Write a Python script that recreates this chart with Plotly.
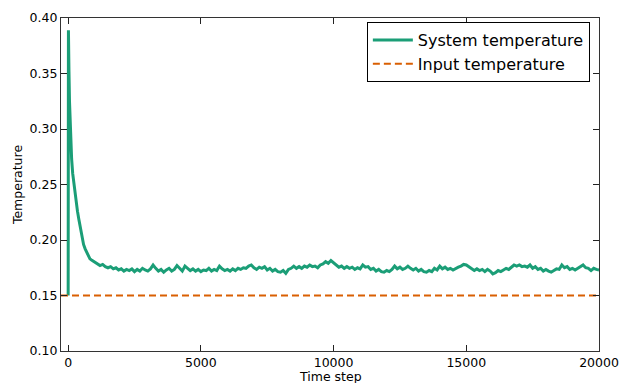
import plotly.graph_objects as go

# Early relaxation: the system starts at the input temperature, jumps, then decays
early_steps = [0, 10, 20, 30, 50, 75, 100, 130, 170, 215, 260, 300, 350, 400,
               450, 520, 580, 640, 700, 760, 820, 880, 940]
early_temp = [0.150, 0.389, 0.372, 0.352, 0.325, 0.302, 0.287, 0.273, 0.260,
              0.250, 0.241, 0.234, 0.226, 0.219, 0.212, 0.201, 0.196, 0.192,
              0.189, 0.186, 0.183, 0.182, 0.181]

# Steady-state fluctuations, sampled every 100 steps from 1000 to 20000
steady_steps = list(range(1000, 20001, 100))
steady_temp = [
    0.180, 0.179, 0.177, 0.178, 0.176, 0.175, 0.176, 0.174, 0.175, 0.173,
    0.174, 0.172, 0.1735, 0.1725, 0.174, 0.1715, 0.1735, 0.172, 0.1745, 0.173,
    0.172, 0.174, 0.1775, 0.1745, 0.172, 0.1735, 0.171, 0.173, 0.1745, 0.172,
    0.1735, 0.177, 0.174, 0.172, 0.1765, 0.1745, 0.1725, 0.174, 0.172, 0.1735,
    0.1715, 0.173, 0.1725, 0.1745, 0.172, 0.1735, 0.1725, 0.1765, 0.174, 0.1725,
    0.1735, 0.172, 0.174, 0.1725, 0.1745, 0.1735, 0.175, 0.1745, 0.1765, 0.1775,
    0.175, 0.1735, 0.1755, 0.1745, 0.176, 0.173, 0.1745, 0.172, 0.1735, 0.1715,
    0.171, 0.1725, 0.170, 0.1735, 0.1745, 0.1765, 0.1745, 0.176, 0.1745, 0.1765,
    0.1755, 0.1775, 0.176, 0.1765, 0.175, 0.1775, 0.1785, 0.1805, 0.179, 0.1815,
    0.1795, 0.177, 0.1755, 0.1765, 0.1745, 0.176, 0.1745, 0.1755, 0.1735, 0.175,
    0.174, 0.1775, 0.1755, 0.176, 0.1735, 0.1745, 0.172, 0.1735, 0.1715, 0.171,
    0.1725, 0.1715, 0.1735, 0.1765, 0.174, 0.1755, 0.1735, 0.1745, 0.1765, 0.1745,
    0.173, 0.1745, 0.172, 0.1735, 0.1715, 0.171, 0.1725, 0.1715, 0.1745, 0.173,
    0.1765, 0.174, 0.1755, 0.1735, 0.1745, 0.173, 0.1745, 0.1755, 0.1765, 0.178,
    0.1775, 0.176, 0.1745, 0.1725, 0.174, 0.1725, 0.1735, 0.1715, 0.1735, 0.172,
    0.1695, 0.1705, 0.1725, 0.1715, 0.173, 0.1745, 0.1735, 0.1755, 0.1775, 0.1765,
    0.1775, 0.176, 0.1765, 0.1755, 0.1775, 0.1745, 0.176, 0.1735, 0.1745, 0.172,
    0.1735, 0.172, 0.171, 0.1725, 0.174, 0.1735, 0.1775, 0.175, 0.176, 0.1735,
    0.1745, 0.173, 0.1745, 0.176, 0.1775, 0.175, 0.1745, 0.1725, 0.1745, 0.1735,
    0.173,
]

system_steps = early_steps + steady_steps
system_temp = early_temp + steady_temp

x_range = [-270, 20000]
input_steps = x_range
input_temp = [0.15, 0.15]

x_ticks = [0, 5000, 10000, 15000, 20000]
y_ticks = [0.10, 0.15, 0.20, 0.25, 0.30, 0.35, 0.40]

fig = go.Figure()
fig.add_trace(go.Scatter(
    x=system_steps, y=system_temp, mode="lines", name="System temperature",
    line=dict(color="#1b9e77", width=3),
))
fig.add_trace(go.Scatter(
    x=input_steps, y=input_temp, mode="lines", name="Input temperature",
    line=dict(color="#d95f02", width=2, dash="7px,4px"),
))

axis_common = dict(
    showgrid=False, zeroline=False, showline=True, linecolor="#333333",
    linewidth=1.3, mirror="ticks", ticks="inside", ticklen=6, tickwidth=1.3,
    tickcolor="#222222", tickfont=dict(size=12.5, color="black"),
    automargin=False,
)

fig.update_layout(
    width=624, height=383,
    margin=dict(l=61, r=25, t=18, b=32),
    paper_bgcolor="white", plot_bgcolor="white",
    font=dict(family="DejaVu Sans", color="black"),
    showlegend=True,
    legend=dict(
        x=0.983, y=0.988, xanchor="right", yanchor="top",
        bgcolor="white", bordercolor="black", borderwidth=1,
        font=dict(size=16, color="black"),
        itemwidth=40,
    ),
    xaxis=dict(
        range=x_range, tickvals=x_ticks, ticktext=[str(v) for v in x_ticks],
        **axis_common,
    ),
    yaxis=dict(
        range=[0.10, 0.40], tickvals=y_ticks,
        ticktext=[f"{v:.2f}" for v in y_ticks],
        title=dict(text="Temperature", font=dict(size=12.5), standoff=4),
        **axis_common,
    ),
    annotations=[dict(
        text="Time step", xref="paper", yref="paper", x=0.5, y=-0.077,
        xanchor="center", yanchor="middle", showarrow=False,
        font=dict(size=12.5, color="black"),
    )],
)

fig.write_html("out.html")
